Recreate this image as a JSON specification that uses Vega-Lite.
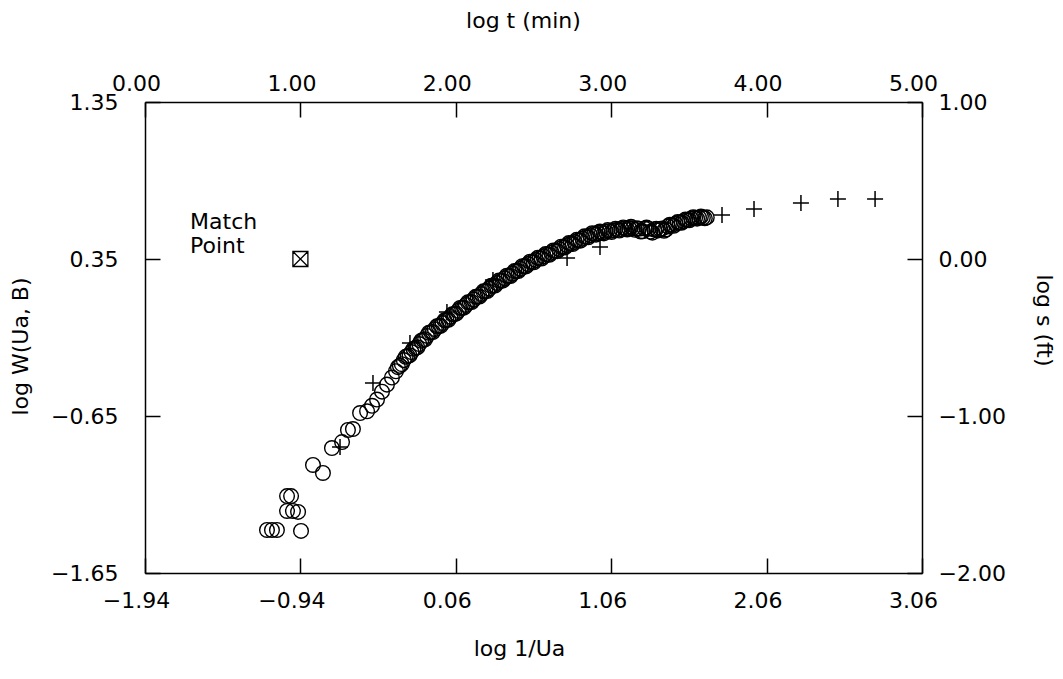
{
  "$schema": "https://vega.github.io/schema/vega-lite/v6.json",
  "width": 777,
  "height": 471,
  "autosize": {"type": "none"},
  "padding": {"left": 145, "top": 102, "right": 141, "bottom": 106},
  "background": "white",
  "config": {
    "view": {"stroke": null},
    "font": "DejaVu Sans",
    "axis": {
      "grid": false,
      "domainColor": "black",
      "domainWidth": 1.5,
      "tickColor": "black",
      "tickWidth": 1.5,
      "tickSize": -15,
      "labelColor": "black",
      "labelFont": "DejaVu Sans",
      "labelFontSize": 22,
      "titleColor": "black",
      "titleFont": "DejaVu Sans",
      "titleFontSize": 22,
      "titleFontWeight": "normal",
      "labelFlush": false,
      "labelOverlap": false,
      "format": ".2f"
    }
  },
  "layer": [
    {
      "encoding": {
        "x": {
          "field": "logInvUa",
          "type": "quantitative",
          "scale": {"domain": [-1.94, 3.06], "nice": false, "zero": false},
          "axis": {
            "orient": "bottom",
            "title": "log 1/Ua",
            "values": [-1.94, -0.94, 0.06, 1.06, 2.06, 3.06],
            "labelPadding": 32,
            "labelOffset": -9,
            "titleX": 374,
            "titleY": 75,
            "titleBaseline": "middle"
          }
        },
        "y": {
          "field": "logW",
          "type": "quantitative",
          "scale": {"domain": [-1.65, 1.35], "nice": false, "zero": false},
          "axis": {
            "orient": "left",
            "title": "log W(Ua, B)",
            "values": [-1.65, -0.65, 0.35, 1.35],
            "labelPadding": 42,
            "labelBaseline": "middle",
            "titleX": -125,
            "titleY": 244,
            "titleBaseline": "middle"
          }
        }
      },
      "layer": [
        {
          "data": {
            "values": [
              {"logInvUa": -1.155, "logW": -1.376},
              {"logInvUa": -1.123, "logW": -1.376},
              {"logInvUa": -1.091, "logW": -1.376},
              {"logInvUa": -0.936, "logW": -1.382},
              {"logInvUa": -1.026, "logW": -1.160},
              {"logInvUa": -1.000, "logW": -1.160},
              {"logInvUa": -1.026, "logW": -1.255},
              {"logInvUa": -0.988, "logW": -1.255},
              {"logInvUa": -0.955, "logW": -1.261},
              {"logInvUa": -0.859, "logW": -0.962},
              {"logInvUa": -0.795, "logW": -1.013},
              {"logInvUa": -0.737, "logW": -0.854},
              {"logInvUa": -0.672, "logW": -0.816},
              {"logInvUa": -0.634, "logW": -0.739},
              {"logInvUa": -0.602, "logW": -0.733},
              {"logInvUa": -0.556, "logW": -0.631},
              {"logInvUa": -0.511, "logW": -0.620},
              {"logInvUa": -0.479, "logW": -0.585},
              {"logInvUa": -0.447, "logW": -0.545},
              {"logInvUa": -0.415, "logW": -0.495},
              {"logInvUa": -0.383, "logW": -0.450},
              {"logInvUa": -0.351, "logW": -0.405},
              {"logInvUa": -0.325, "logW": -0.365},
              {"logInvUa": -0.3125, "logW": -0.339},
              {"logInvUa": -0.300, "logW": -0.330},
              {"logInvUa": -0.2875, "logW": -0.320},
              {"logInvUa": -0.275, "logW": -0.294},
              {"logInvUa": -0.2625, "logW": -0.273},
              {"logInvUa": -0.250, "logW": -0.268},
              {"logInvUa": -0.2375, "logW": -0.264},
              {"logInvUa": -0.225, "logW": -0.243},
              {"logInvUa": -0.2125, "logW": -0.222},
              {"logInvUa": -0.200, "logW": -0.217},
              {"logInvUa": -0.1875, "logW": -0.213},
              {"logInvUa": -0.175, "logW": -0.192},
              {"logInvUa": -0.1625, "logW": -0.171},
              {"logInvUa": -0.150, "logW": -0.166},
              {"logInvUa": -0.1375, "logW": -0.161},
              {"logInvUa": -0.125, "logW": -0.140},
              {"logInvUa": -0.1125, "logW": -0.120},
              {"logInvUa": -0.100, "logW": -0.116},
              {"logInvUa": -0.0875, "logW": -0.115},
              {"logInvUa": -0.075, "logW": -0.097},
              {"logInvUa": -0.0625, "logW": -0.079},
              {"logInvUa": -0.050, "logW": -0.077},
              {"logInvUa": -0.0375, "logW": -0.076},
              {"logInvUa": -0.025, "logW": -0.058},
              {"logInvUa": -0.0125, "logW": -0.041},
              {"logInvUa": 0.000, "logW": -0.039},
              {"logInvUa": 0.0125, "logW": -0.037},
              {"logInvUa": 0.025, "logW": -0.019},
              {"logInvUa": 0.0375, "logW": -0.002},
              {"logInvUa": 0.050, "logW": 0.000},
              {"logInvUa": 0.0625, "logW": 0.002},
              {"logInvUa": 0.075, "logW": 0.020},
              {"logInvUa": 0.0875, "logW": 0.038},
              {"logInvUa": 0.100, "logW": 0.039},
              {"logInvUa": 0.1125, "logW": 0.040},
              {"logInvUa": 0.125, "logW": 0.057},
              {"logInvUa": 0.1375, "logW": 0.074},
              {"logInvUa": 0.150, "logW": 0.075},
              {"logInvUa": 0.1625, "logW": 0.076},
              {"logInvUa": 0.175, "logW": 0.092},
              {"logInvUa": 0.1875, "logW": 0.109},
              {"logInvUa": 0.200, "logW": 0.110},
              {"logInvUa": 0.2125, "logW": 0.111},
              {"logInvUa": 0.225, "logW": 0.127},
              {"logInvUa": 0.2375, "logW": 0.144},
              {"logInvUa": 0.250, "logW": 0.145},
              {"logInvUa": 0.2625, "logW": 0.146},
              {"logInvUa": 0.275, "logW": 0.162},
              {"logInvUa": 0.2875, "logW": 0.179},
              {"logInvUa": 0.300, "logW": 0.180},
              {"logInvUa": 0.3125, "logW": 0.181},
              {"logInvUa": 0.325, "logW": 0.197},
              {"logInvUa": 0.3375, "logW": 0.213},
              {"logInvUa": 0.350, "logW": 0.212},
              {"logInvUa": 0.3625, "logW": 0.212},
              {"logInvUa": 0.375, "logW": 0.227},
              {"logInvUa": 0.3875, "logW": 0.243},
              {"logInvUa": 0.400, "logW": 0.242},
              {"logInvUa": 0.4125, "logW": 0.242},
              {"logInvUa": 0.425, "logW": 0.257},
              {"logInvUa": 0.4375, "logW": 0.273},
              {"logInvUa": 0.450, "logW": 0.273},
              {"logInvUa": 0.4625, "logW": 0.273},
              {"logInvUa": 0.475, "logW": 0.288},
              {"logInvUa": 0.4875, "logW": 0.304},
              {"logInvUa": 0.500, "logW": 0.303},
              {"logInvUa": 0.5125, "logW": 0.303},
              {"logInvUa": 0.525, "logW": 0.318},
              {"logInvUa": 0.5375, "logW": 0.333},
              {"logInvUa": 0.550, "logW": 0.331},
              {"logInvUa": 0.5625, "logW": 0.329},
              {"logInvUa": 0.575, "logW": 0.343},
              {"logInvUa": 0.5875, "logW": 0.357},
              {"logInvUa": 0.600, "logW": 0.355},
              {"logInvUa": 0.6125, "logW": 0.353},
              {"logInvUa": 0.625, "logW": 0.367},
              {"logInvUa": 0.6375, "logW": 0.381},
              {"logInvUa": 0.650, "logW": 0.379},
              {"logInvUa": 0.6625, "logW": 0.377},
              {"logInvUa": 0.675, "logW": 0.390},
              {"logInvUa": 0.6875, "logW": 0.404},
              {"logInvUa": 0.700, "logW": 0.402},
              {"logInvUa": 0.7125, "logW": 0.400},
              {"logInvUa": 0.725, "logW": 0.414},
              {"logInvUa": 0.7375, "logW": 0.428},
              {"logInvUa": 0.750, "logW": 0.426},
              {"logInvUa": 0.7625, "logW": 0.424},
              {"logInvUa": 0.775, "logW": 0.437},
              {"logInvUa": 0.7875, "logW": 0.451},
              {"logInvUa": 0.800, "logW": 0.448},
              {"logInvUa": 0.8125, "logW": 0.445},
              {"logInvUa": 0.825, "logW": 0.458},
              {"logInvUa": 0.8375, "logW": 0.472},
              {"logInvUa": 0.850, "logW": 0.469},
              {"logInvUa": 0.8625, "logW": 0.467},
              {"logInvUa": 0.875, "logW": 0.480},
              {"logInvUa": 0.8875, "logW": 0.494},
              {"logInvUa": 0.900, "logW": 0.491},
              {"logInvUa": 0.9125, "logW": 0.488},
              {"logInvUa": 0.925, "logW": 0.501},
              {"logInvUa": 0.9375, "logW": 0.514},
              {"logInvUa": 0.950, "logW": 0.510},
              {"logInvUa": 0.9625, "logW": 0.505},
              {"logInvUa": 0.975, "logW": 0.515},
              {"logInvUa": 0.9875, "logW": 0.525},
              {"logInvUa": 1.000, "logW": 0.519},
              {"logInvUa": 1.0125, "logW": 0.513},
              {"logInvUa": 1.025, "logW": 0.523},
              {"logInvUa": 1.0375, "logW": 0.534},
              {"logInvUa": 1.050, "logW": 0.528},
              {"logInvUa": 1.0625, "logW": 0.522},
              {"logInvUa": 1.075, "logW": 0.532},
              {"logInvUa": 1.0875, "logW": 0.542},
              {"logInvUa": 1.100, "logW": 0.536},
              {"logInvUa": 1.1125, "logW": 0.531},
              {"logInvUa": 1.125, "logW": 0.541},
              {"logInvUa": 1.1375, "logW": 0.551},
              {"logInvUa": 1.150, "logW": 0.545},
              {"logInvUa": 1.1625, "logW": 0.538},
              {"logInvUa": 1.175, "logW": 0.547},
              {"logInvUa": 1.1875, "logW": 0.555},
              {"logInvUa": 1.200, "logW": 0.546},
              {"logInvUa": 1.2125, "logW": 0.536},
              {"logInvUa": 1.225, "logW": 0.545},
              {"logInvUa": 1.2375, "logW": 0.543},
              {"logInvUa": 1.250, "logW": 0.525},
              {"logInvUa": 1.2625, "logW": 0.527},
              {"logInvUa": 1.275, "logW": 0.544},
              {"logInvUa": 1.2875, "logW": 0.550},
              {"logInvUa": 1.300, "logW": 0.543},
              {"logInvUa": 1.3125, "logW": 0.524},
              {"logInvUa": 1.325, "logW": 0.518},
              {"logInvUa": 1.3375, "logW": 0.538},
              {"logInvUa": 1.350, "logW": 0.542},
              {"logInvUa": 1.3625, "logW": 0.532},
              {"logInvUa": 1.375, "logW": 0.541},
              {"logInvUa": 1.3875, "logW": 0.544},
              {"logInvUa": 1.400, "logW": 0.530},
              {"logInvUa": 1.4125, "logW": 0.538},
              {"logInvUa": 1.425, "logW": 0.558},
              {"logInvUa": 1.4375, "logW": 0.568},
              {"logInvUa": 1.450, "logW": 0.566},
              {"logInvUa": 1.4625, "logW": 0.562},
              {"logInvUa": 1.475, "logW": 0.574},
              {"logInvUa": 1.4875, "logW": 0.585},
              {"logInvUa": 1.500, "logW": 0.583},
              {"logInvUa": 1.5125, "logW": 0.581},
              {"logInvUa": 1.525, "logW": 0.591},
              {"logInvUa": 1.5375, "logW": 0.601},
              {"logInvUa": 1.550, "logW": 0.599},
              {"logInvUa": 1.5625, "logW": 0.597},
              {"logInvUa": 1.575, "logW": 0.607},
              {"logInvUa": 1.5875, "logW": 0.616},
              {"logInvUa": 1.600, "logW": 0.612},
              {"logInvUa": 1.6125, "logW": 0.607},
              {"logInvUa": 1.625, "logW": 0.613},
              {"logInvUa": 1.6375, "logW": 0.620},
              {"logInvUa": 1.650, "logW": 0.614},
              {"logInvUa": 1.6625, "logW": 0.609},
              {"logInvUa": 1.675, "logW": 0.615}
            ]
          },
          "mark": {"type": "point", "shape": "circle", "filled": false, "size": 215, "stroke": "black", "strokeWidth": 1.4, "opacity": 1}
        },
        {
          "data": {"values": [{"logInvUa": -0.94, "logW": 0.35}]},
          "mark": {"type": "point", "shape": "M-1,-1H1V1H-1ZM-1,-1L1,1M1,-1L-1,1", "filled": false, "size": 225, "stroke": "black", "strokeWidth": 1.3, "opacity": 1}
        },
        {
          "data": {"values": [{"logInvUa": -1.65, "logW": 0.585, "label": "Match\nPoint"}]},
          "mark": {"type": "text", "align": "left", "baseline": "middle", "lineBreak": "\n", "lineHeight": 24, "fontSize": 22, "font": "DejaVu Sans", "color": "black"},
          "encoding": {"text": {"field": "label"}}
        }
      ]
    },
    {
      "data": {
        "values": [
          {"logT": 1.255, "logS": -1.197},
          {"logT": 1.467, "logS": -0.790},
          {"logT": 1.705, "logS": -0.535},
          {"logT": 1.943, "logS": -0.338},
          {"logT": 2.239, "logS": -0.134},
          {"logT": 2.716, "logS": 0.006},
          {"logT": 2.928, "logS": 0.076},
          {"logT": 3.713, "logS": 0.280},
          {"logT": 3.919, "logS": 0.318},
          {"logT": 4.221, "logS": 0.357},
          {"logT": 4.459, "logS": 0.382},
          {"logT": 4.698, "logS": 0.382}
        ]
      },
      "mark": {"type": "point", "shape": "M-1,0H1M0,-1V1", "filled": false, "size": 256, "stroke": "black", "strokeWidth": 1.5, "opacity": 1},
      "encoding": {
        "x": {
          "field": "logT",
          "type": "quantitative",
          "scale": {"domain": [0, 5], "nice": false, "zero": false},
          "axis": {
            "orient": "top",
            "title": "log t (min)",
            "values": [0, 1, 2, 3, 4, 5],
            "labelPadding": 27,
            "labelBaseline": "alphabetic",
            "labelOffset": -9,
            "titleX": 378,
            "titleY": -82,
            "titleBaseline": "middle"
          }
        },
        "y": {
          "field": "logS",
          "type": "quantitative",
          "scale": {"domain": [-2, 1], "nice": false, "zero": false},
          "axis": {
            "orient": "right",
            "title": "log s (ft)",
            "values": [-2, -1, 0, 1],
            "labelPadding": 31,
            "labelAlign": "left",
            "labelBaseline": "middle",
            "labelExpr": "datum.value < 0 ? datum.label : ' ' + datum.label",
            "titleX": 121,
            "titleY": 218,
            "titleBaseline": "middle"
          }
        }
      }
    }
  ],
  "resolve": {
    "scale": {"x": "independent", "y": "independent"},
    "axis": {"x": "independent", "y": "independent"}
  }
}
